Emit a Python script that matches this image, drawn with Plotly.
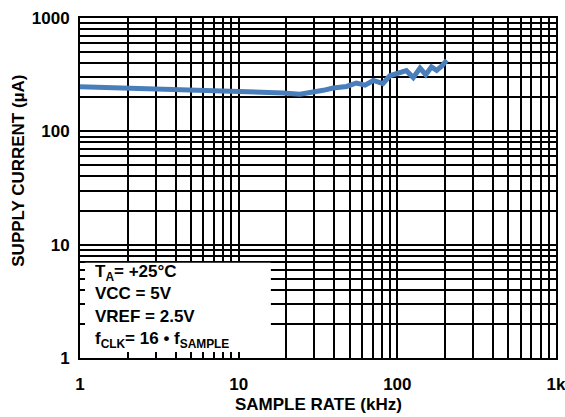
import plotly.graph_objects as go

# Data
sample_rate_khz = [1, 2, 3, 5.7, 11.8, 19.1, 24.3, 28.1, 34.1, 39.4, 47.9, 55.2, 62.6,
                   70.6, 81.2, 89.6, 103, 114, 126, 139, 151, 164, 177, 190, 205]
supply_current_ua = [248, 241, 236, 230, 228, 218, 213, 218, 230, 241, 249, 267, 256,
                     281, 264, 309, 325, 343, 298, 362, 316, 370, 345, 375, 424]

x_tickvals = [1, 10, 100, 1000]
x_ticktext = ["1", "10", "100", "1k"]
y_tickvals = [1, 10, 100, 1000]
y_ticktext = ["1", "10", "100", "1000"]

legend_lines = ["T<sub>A</sub>= +25°C", "VCC = 5V", "VREF = 2.5V",
                "f<sub>CLK</sub>= 16 • f<sub>SAMPLE</sub>"]

FONT = "Liberation Sans, Arial, sans-serif"

fig = go.Figure()
fig.add_trace(go.Scatter(x=sample_rate_khz, y=supply_current_ua, mode="lines",
                         line=dict(color="#4a7ebb", width=5), showlegend=False))

axis_common = dict(type="log", showgrid=True, gridcolor="black", gridwidth=2,
                   minor=dict(showgrid=True, dtick="D1", gridcolor="black", gridwidth=2),
                   showline=True, linecolor="black", linewidth=2, mirror=True,
                   ticks="", zeroline=False, automargin=False, ticklabeloverflow="allow",
                   tickfont=dict(family=FONT, size=17, color="black", weight="bold"))

fig.update_xaxes(range=[0, 3], tickvals=x_tickvals, ticktext=x_ticktext,
                 ticklabelstandoff=10, **axis_common)
fig.update_yaxes(range=[0, 3], tickvals=y_tickvals, ticktext=y_ticktext,
                 ticklabelstandoff=5, **axis_common)

# white box behind the conditions text
fig.add_shape(type="rect", xref="paper", yref="paper", x0=0.0105, x1=0.401,
              y0=0.0177, y1=0.28, fillcolor="white", line=dict(width=0), layer="above")

ys = [0.250, 0.191, 0.121, 0.053]
for txt, yy in zip(legend_lines, ys):
    fig.add_annotation(text=txt, xref="paper", yref="paper", x=0.027, y=yy,
                       xanchor="left", yanchor="middle", showarrow=False,
                       font=dict(family=FONT, size=17, color="black", weight="bold"))

fig.add_annotation(text="SAMPLE RATE (kHz)", xref="paper", yref="paper", x=0.5, y=-0.138,
                   xanchor="center", yanchor="middle", showarrow=False,
                   font=dict(family=FONT, size=17, color="black", weight="bold"))
fig.add_annotation(text="SUPPLY CURRENT (µA)", xref="paper", yref="paper", x=-0.128, y=0.551,
                   xanchor="center", yanchor="middle", showarrow=False, textangle=-90,
                   font=dict(family=FONT, size=17, color="black", weight="bold"))

fig.update_layout(width=565, height=417, margin=dict(l=80, r=9, t=18, b=59),
                  paper_bgcolor="white", plot_bgcolor="white")

# remove the default page margin so the figure sits at the window's top-left corner
fig.write_html("out.html", config={"displayModeBar": False},
               post_script="document.body.style.margin='0px';")
